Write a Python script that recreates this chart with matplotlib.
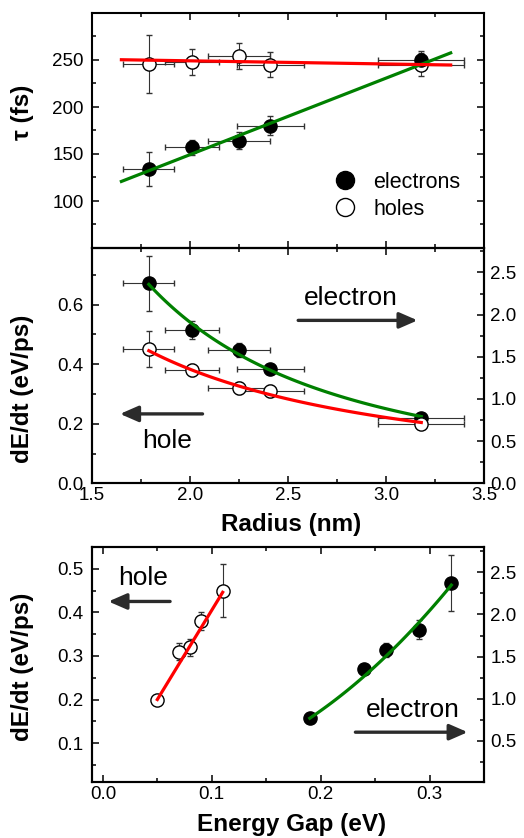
import numpy as np
import matplotlib
matplotlib.use("Agg")
import matplotlib.pyplot as plt
from matplotlib.ticker import MultipleLocator, FixedLocator

plt.rcParams['font.family'] = ['Liberation Sans', 'DejaVu Sans']
plt.rcParams['axes.linewidth'] = 1.5

# dot radius and its uncertainty (nm)
radius = [1.79, 2.01, 2.25, 2.41, 3.18]
radius_err = [0.13, 0.14, 0.16, 0.17, 0.22]

# relaxation times (fs)
tau_e = [134, 157, 164, 180, 250]
tau_e_err = [18, 8, 9, 10, 10]
tau_h = [246, 248, 254, 245, 245]
tau_h_err = [31, 14, 14, 13, 12]

# energy loss rates (eV/ps)
rate_e = [2.37, 1.82, 1.58, 1.35, 0.77]
rate_e_err = [0.33, 0.11, 0.08, 0.05, 0.02]
rate_h = [0.45, 0.38, 0.32, 0.31, 0.20]
rate_h_err = [0.06, 0.02, 0.02, 0.02, 0.005]

# energy gaps (eV)
gap_e = [0.32, 0.29, 0.26, 0.24, 0.19]
gap_h = [0.11, 0.09, 0.08, 0.07, 0.05]

# fit parameters
tau_e_fit = [81.4, -13.5]      # slope, intercept
tau_h_fit = [-3.34, 255.8]
tau_fit_range = [1.65, 3.33]
rate_e_fit = [7.13, -1.9]      # A * R**n
rate_h_fit = [0.981, -1.357]
rate_fit_range = [1.79, 3.18]
gap_e_fit = [26.9, 2.14]       # A * Eg**n
gap_e_range = [0.19, 0.32]
gap_h_fit = [4.1, -0.005]      # slope, intercept
gap_h_range = [0.05, 0.11]

RED = '#ff0000'
GREEN = '#008000'
ARROW = '#2b2b2b'
TICK_FS = 13.5
LABEL_FS = 17.5
NOTE_FS = 19

W, H = 524, 838
fig = plt.figure(figsize=(W / 100, H / 100), dpi=100)


def px_axes(left, top, right, bottom):
    return fig.add_axes([left / W, 1 - bottom / H, (right - left) / W, (bottom - top) / H])


def style(ax, right=True):
    ax.tick_params(which='both', direction='in', top=True, right=right,
                   labelsize=TICK_FS, width=1.1, pad=6)
    ax.tick_params(which='major', length=5)
    ax.tick_params(which='minor', length=3)
    ax.tick_params(axis='x', pad=3)


def style_right(ax):
    ax.tick_params(which='both', direction='in', labelsize=TICK_FS, width=1.1, pad=4.5)
    ax.tick_params(which='major', length=5)
    ax.tick_params(which='minor', length=3)


def err(ax, x, y, yerr, xerr=None, filled=True):
    ax.errorbar(x, y, yerr=yerr, xerr=xerr, fmt='o', ms=9.5,
                mfc='black' if filled else 'white', mec='black', mew=1,
                ecolor='#333333', elinewidth=0.8, capsize=2.5, capthick=0.8,
                zorder=3)


def arrow(ax, tail, tip):
    ax.annotate('', xy=tip, xytext=tail,
                arrowprops=dict(arrowstyle='-|>,head_length=1.1,head_width=0.48',
                                mutation_scale=10, lw=2.4, color=ARROW,
                                shrinkA=0, shrinkB=0))


# ---- tau vs radius ----
ax1 = px_axes(92, 13, 484, 248)
style(ax1)
err(ax1, radius, tau_h, tau_h_err, radius_err, filled=False)
err(ax1, radius, tau_e, tau_e_err, radius_err, filled=True)
r = np.array(tau_fit_range)
ax1.plot(r, tau_e_fit[0] * r + tau_e_fit[1], color=GREEN, lw=2.3, zorder=4)
ax1.plot(r, tau_h_fit[0] * r + tau_h_fit[1], color=RED, lw=2.3, zorder=4)
ax1.set_xlim(1.5, 3.5)
ax1.set_ylim(50, 300)
ax1.xaxis.set_major_locator(MultipleLocator(0.5))
ax1.xaxis.set_minor_locator(MultipleLocator(0.25))
ax1.yaxis.set_major_locator(FixedLocator([100, 150, 200, 250]))
ax1.yaxis.set_minor_locator(MultipleLocator(25))
ax1.tick_params(labelbottom=False)
ax1.set_ylabel('τ (fs)', fontsize=LABEL_FS, fontweight='bold')
ax1.yaxis.set_label_coords(-0.148, 0.577)

h_e = ax1.plot([], [], 'o', mfc='black', mec='black', ms=13)[0]
h_h = ax1.plot([], [], 'o', mfc='white', mec='black', ms=13)[0]
ax1.legend([h_e, h_h], ['electrons', 'holes'], loc='center left',
           bbox_to_anchor=(0.618, 0.222), frameon=False, fontsize=15.5,
           handlelength=1.0, handletextpad=0.8, borderpad=0, borderaxespad=0,
           labelspacing=0.28)

# ---- dE/dt vs radius ----
ax2 = px_axes(92, 248, 484, 483.3)
ax2r = ax2.twinx()
style(ax2, right=False)
style_right(ax2r)
err(ax2r, radius, rate_e, rate_e_err, radius_err, filled=True)
r = np.linspace(*rate_fit_range, 100)
ax2r.plot(r, rate_e_fit[0] * r ** rate_e_fit[1], color=GREEN, lw=2.3, zorder=4)
err(ax2, radius, rate_h, rate_h_err, radius_err, filled=False)
ax2.plot(r, rate_h_fit[0] * r ** rate_h_fit[1], color=RED, lw=2.3, zorder=4)
ax2.set_zorder(ax2r.get_zorder() + 1)
ax2.patch.set_visible(False)
ax2.set_xlim(1.5, 3.5)
ax2.set_ylim(0, 0.79)
ax2r.set_ylim(0, 2.79)
ax2.xaxis.set_major_locator(MultipleLocator(0.5))
ax2.xaxis.set_minor_locator(MultipleLocator(0.25))
ax2.yaxis.set_major_locator(MultipleLocator(0.2))
ax2.yaxis.set_minor_locator(MultipleLocator(0.1))
ax2r.yaxis.set_major_locator(MultipleLocator(0.5))
ax2r.yaxis.set_minor_locator(MultipleLocator(0.25))
ax2.yaxis.set_major_formatter('{x:.1f}')
ax2r.yaxis.set_major_formatter('{x:.1f}')
ax2.xaxis.set_major_formatter('{x:.1f}')
ax2.set_xlabel('Radius (nm)', fontsize=LABEL_FS, fontweight='bold')
ax2.xaxis.set_label_coords(0.507, -0.128)
ax2.set_ylabel('dE/dt (eV/ps)', fontsize=LABEL_FS, fontweight='bold')
ax2.yaxis.set_label_coords(-0.148, 0.40)
ax2.text(2.58, 0.600, 'electron', fontsize=NOTE_FS)
ax2.text(1.754, 0.118, 'hole', fontsize=NOTE_FS)
arrow(ax2, (2.552, 0.547), (3.161, 0.547))
arrow(ax2, (2.064, 0.233), (1.643, 0.233))

# ---- dE/dt vs energy gap ----
ax3 = px_axes(92, 547, 484, 782.3)
ax3r = ax3.twinx()
style(ax3, right=False)
style_right(ax3r)
err(ax3r, gap_e, rate_e, rate_e_err, filled=True)
g = np.linspace(*gap_e_range, 100)
ax3r.plot(g, gap_e_fit[0] * g ** gap_e_fit[1], color=GREEN, lw=2.3, zorder=4)
err(ax3, gap_h, rate_h, rate_h_err, filled=False)
g = np.array(gap_h_range)
ax3.plot(g, gap_h_fit[0] * g + gap_h_fit[1], color=RED, lw=2.3, zorder=4)
ax3.set_zorder(ax3r.get_zorder() + 1)
ax3.patch.set_visible(False)
ax3.set_xlim(-0.01, 0.35)
ax3.set_ylim(0.01, 0.55)
ax3r.set_ylim(0.01, 2.80)
ax3.xaxis.set_major_locator(MultipleLocator(0.1))
ax3.xaxis.set_minor_locator(MultipleLocator(0.05))
ax3.yaxis.set_major_locator(MultipleLocator(0.1))
ax3.yaxis.set_minor_locator(MultipleLocator(0.05))
ax3r.yaxis.set_major_locator(MultipleLocator(0.5))
ax3r.yaxis.set_minor_locator(MultipleLocator(0.25))
ax3.yaxis.set_major_formatter('{x:.1f}')
ax3r.yaxis.set_major_formatter('{x:.1f}')
ax3.xaxis.set_major_formatter('{x:.1f}')
ax3.set_xlabel('Energy Gap (eV)', fontsize=LABEL_FS, fontweight='bold')
ax3.xaxis.set_label_coords(0.508, -0.132)
ax3.set_ylabel('dE/dt (eV/ps)', fontsize=LABEL_FS, fontweight='bold')
ax3.yaxis.set_label_coords(-0.148, 0.49)
ax3.text(0.0143, 0.463, 'hole', fontsize=NOTE_FS)
ax3.text(0.2413, 0.160, 'electron', fontsize=NOTE_FS)
arrow(ax3, (0.0617, 0.425), (0.0051, 0.425))
arrow(ax3, (0.2319, 0.125), (0.335, 0.125))

fig.savefig('out.png', dpi=100)
